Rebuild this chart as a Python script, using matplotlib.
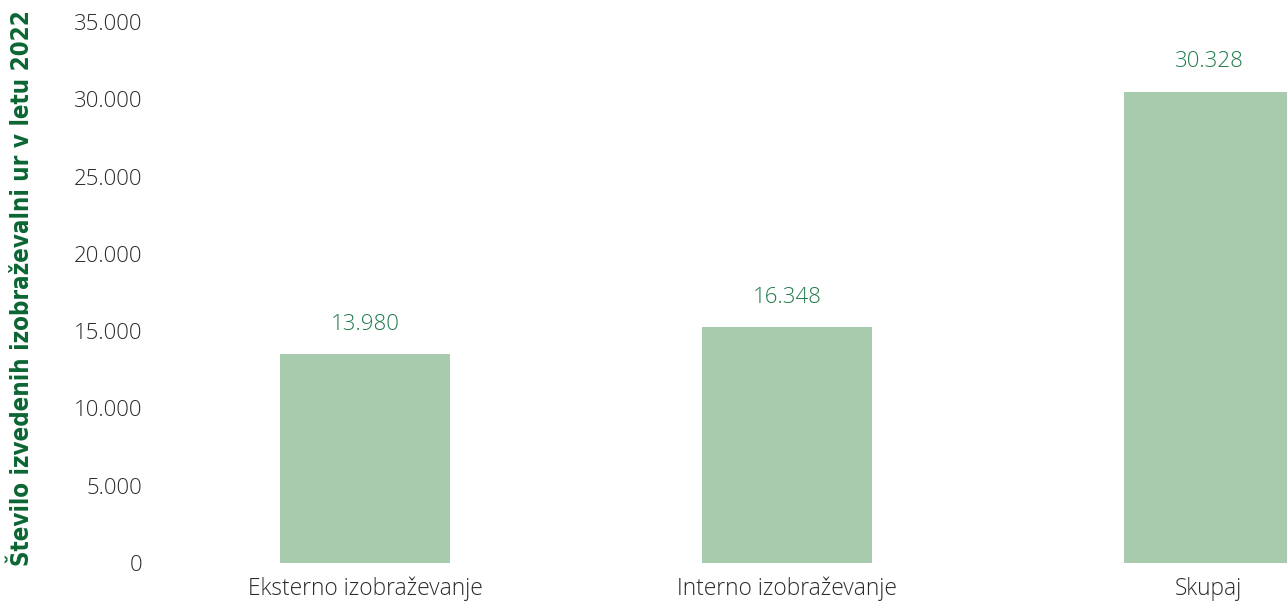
import matplotlib
matplotlib.use("Agg")
import matplotlib.pyplot as plt

categories = ["Eksterno izobraževanje", "Interno izobraževanje", "Skupaj"]
bar_values = [13500, 15250, 30500]
value_labels = ["13.980", "16.348", "30.328"]
yticks = [0, 5000, 10000, 15000, 20000, 25000, 30000, 35000]
ytick_labels = ["0", "5.000", "10.000", "15.000", "20.000", "25.000", "30.000", "35.000"]
ylabel = "Število izvedenih izobraževalni ur v letu 2022"

fig = plt.figure(figsize=(12.87, 6.07), dpi=100)
ax = fig.add_axes([155/1287, 44/607, 1 - 155/1287, (563-22)/607])

x = list(range(len(categories)))
ax.bar(x, bar_values, width=0.403, color="#a9cbad", zorder=2)
for xi, v, lab in zip(x, bar_values, value_labels):
    ax.annotate(lab, (xi, v), xytext=(0, 14), textcoords="offset points",
                ha="center", va="bottom", color="#1f7a4a", fontsize=16,
                family="Open Sans", fontweight="light")

ax.set_xlim(-0.4976, 2.185)
ax.set_ylim(0, 35000)
ax.set_yticks(yticks)
ax.set_yticklabels(ytick_labels, family="Open Sans", fontweight="light", fontsize=16, color="#2a2a2a")
ax.set_xticks(x)
ax.set_xticklabels(categories, family="Open Sans", fontweight="light", fontsize=16.4, color="#2a2a2a")
ax.tick_params(length=0, axis="y", pad=9)
ax.tick_params(length=0, axis="x", pad=10)
for s in ax.spines.values():
    s.set_visible(False)

fig.text(22/1287, (607-288)/607, ylabel, rotation=90, ha="center", va="center",
         color="#0b6633", fontsize=17.3, fontweight="bold", fontstretch="condensed",
         family=["DejaVu Sans"])

fig.savefig("out.png", dpi=100)
